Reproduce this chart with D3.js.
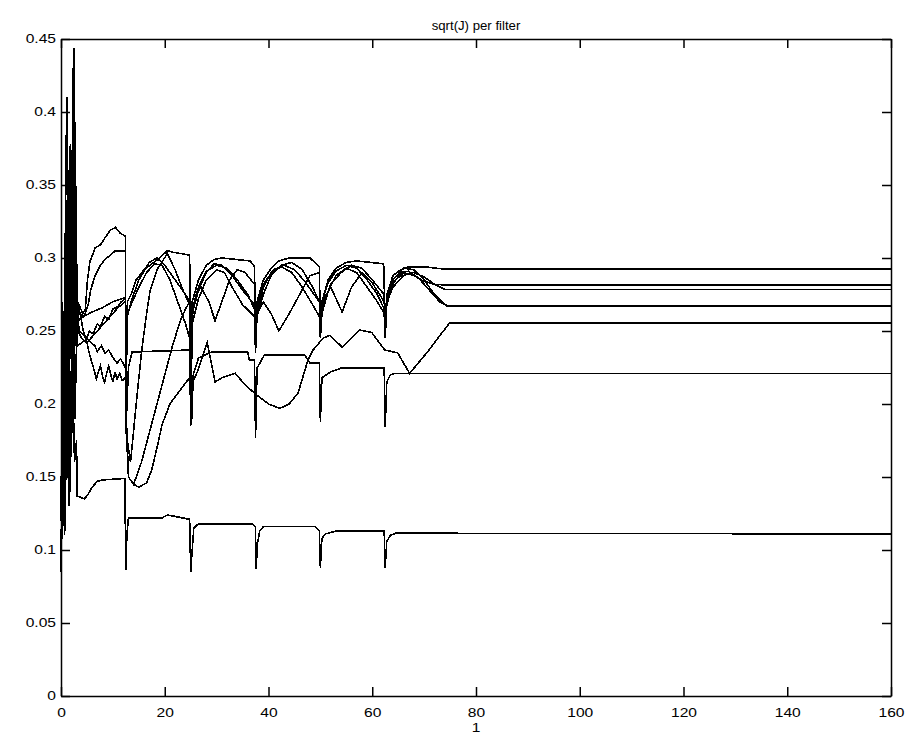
<!DOCTYPE html>
<html>
<head>
<meta charset="utf-8">
<script src="https://cdn.jsdelivr.net/npm/d3@7"></script>
<style>
  body { margin: 0; background: #fff; }
  text { font-family: "Liberation Sans", Arial, sans-serif; fill: #000; }
</style>
</head>
<body>
<script>
// sqrt(J) per filter - one line per filter

let titleText = "sqrt(J) per filter";
let xLabelText = "1";
let xTicks = [0, 20, 40, 60, 80, 100, 120, 140, 160];
let yTicks = [0, 0.05, 0.1, 0.15, 0.2, 0.25, 0.3, 0.35, 0.4, 0.45];
let yTickLabels = ["0", "0.05", "0.1", "0.15", "0.2", "0.25", "0.3", "0.35", "0.4", "0.45"];

// filter A (ends at 0.2925)
let filterA = [[0,0.12],[0.3,0.27],[0.8,0.17],[1.4,0.36],[1.9,0.24],[2.3,0.43],[2.7,0.29],[3.2,0.27],[4.2,0.262],[4.7,0.265],[5.1,0.285],[5.6,0.298],[6.2,0.303],[6.6,0.307],[7.6,0.309],[8.5,0.314],[9.5,0.319],[10.5,0.321],[11.4,0.317],[12.4,0.315],[12.5,0.22],[12.8,0.27],[13.5,0.275],[14.5,0.285],[16,0.292],[17.5,0.296],[19,0.3],[20.5,0.305],[21.5,0.304],[24.8,0.302],[25,0.19],[25.3,0.27],[26.5,0.285],[28,0.295],[29.5,0.299],[31,0.3],[36.5,0.298],[37.3,0.294],[37.5,0.245],[37.8,0.27],[39,0.285],[40.5,0.293],[42,0.298],[44,0.3],[48,0.3],[49.8,0.294],[50,0.25],[50.3,0.27],[51.5,0.285],[53,0.293],[55,0.297],[57,0.298],[62.2,0.296],[62.5,0.255],[62.8,0.275],[64,0.288],[65.5,0.292],[67,0.294],[70,0.294],[73.6,0.2925],[160,0.2925]];
// filter B (ends at 0.2815)
let filterB = [[0,0.1],[0.5,0.2],[1.1,0.41],[1.6,0.22],[2.1,0.33],[2.5,0.444],[2.9,0.27],[3.5,0.262],[4.5,0.26],[5.3,0.269],[5.7,0.278],[6.6,0.288],[7.6,0.295],[8.5,0.299],[10.5,0.305],[12.4,0.305],[12.5,0.2],[12.8,0.26],[13.5,0.27],[15,0.285],[17,0.297],[18.5,0.3],[20,0.295],[22,0.285],[24,0.275],[24.8,0.27],[25,0.2],[25.3,0.265],[26.5,0.28],[28,0.291],[30,0.295],[32,0.293],[34,0.285],[36,0.275],[37.3,0.265],[37.5,0.24],[37.8,0.26],[39,0.275],[40.5,0.288],[42.5,0.295],[44.5,0.297],[46.5,0.292],[48.5,0.28],[49.8,0.27],[50,0.255],[50.3,0.27],[51.5,0.283],[53,0.291],[55,0.295],[57,0.293],[59,0.285],[61,0.275],[62.3,0.265],[62.5,0.25],[62.8,0.27],[64,0.283],[66,0.29],[68,0.288],[70,0.284],[72,0.282],[74,0.2815],[160,0.2815]];
// filter C (ends at 0.2785)
let filterC = [[0,0.09],[0.4,0.16],[0.9,0.3],[1.3,0.2],[1.8,0.378],[2.2,0.26],[2.6,0.41],[3.0,0.25],[3.5,0.258],[4.4,0.26],[6,0.263],[8,0.266],[10,0.27],[12.4,0.273],[12.5,0.2],[13,0.15],[14,0.145],[15.5,0.16],[17,0.18],[18.5,0.2],[20,0.22],[21.5,0.24],[23,0.257],[24,0.265],[24.8,0.27],[25,0.19],[25.3,0.26],[26,0.275],[27,0.28],[28.5,0.27],[29.7,0.257],[31,0.27],[32.5,0.285],[34,0.292],[35.5,0.29],[37.3,0.282],[37.5,0.24],[37.8,0.262],[39,0.27],[40.5,0.262],[42,0.25],[44,0.262],[46,0.275],[48,0.288],[49.8,0.29],[50,0.255],[50.3,0.27],[52,0.28],[54.2,0.263],[56,0.28],[58,0.29],[60,0.283],[62.3,0.27],[62.5,0.255],[62.8,0.27],[64,0.28],[66,0.288],[68,0.29],[70,0.287],[72,0.282],[74,0.2785],[160,0.2785]];
// filter D (ends at 0.267)
let filterD = [[0,0.1],[0.6,0.24],[1.2,0.15],[1.7,0.3],[2.2,0.18],[2.8,0.36],[3.2,0.24],[4,0.242],[4.8,0.244],[5.5,0.25],[6.2,0.248],[7,0.255],[7.6,0.253],[8.4,0.26],[9.2,0.258],[10,0.265],[11,0.267],[11.6,0.27],[12.4,0.272],[12.5,0.2],[12.8,0.262],[13.5,0.268],[15,0.28],[16.5,0.29],[18,0.296],[19.5,0.295],[21,0.285],[22.5,0.27],[24,0.255],[24.8,0.245],[25,0.185],[25.3,0.255],[26.5,0.272],[28,0.285],[30,0.292],[31.5,0.29],[33,0.28],[35,0.268],[37.3,0.26],[37.5,0.235],[37.8,0.262],[39,0.28],[40.5,0.29],[42.5,0.294],[44.5,0.29],[46.5,0.28],[48.5,0.268],[49.8,0.26],[50,0.245],[50.3,0.262],[51.5,0.277],[53,0.288],[55,0.293],[57,0.29],[59,0.28],[61,0.27],[62.3,0.262],[62.5,0.245],[62.8,0.268],[64,0.282],[65.5,0.29],[67,0.291],[69,0.286],[71,0.278],[73,0.27],[74.5,0.267],[160,0.267]];
// filter E (ends at 0.267)
let filterE = [[0,0.13],[0.4,0.2],[1,0.34],[1.5,0.17],[2,0.37],[2.4,0.21],[2.8,0.33],[3.2,0.27],[3.8,0.26],[4.3,0.25],[5,0.242],[5.5,0.234],[6,0.228],[6.4,0.223],[6.8,0.217],[7.2,0.222],[7.6,0.226],[8,0.219],[8.4,0.215],[8.8,0.221],[9.2,0.226],[9.6,0.22],[10,0.215],[10.4,0.222],[10.8,0.217],[11.3,0.221],[11.8,0.216],[12.4,0.218],[12.5,0.182],[13,0.17],[13.4,0.16],[14.5,0.2],[15.5,0.235],[16.5,0.262],[17.2,0.278],[18.5,0.292],[20.5,0.303],[22,0.292],[23.5,0.278],[24.8,0.268],[25,0.2],[25.3,0.262],[26.5,0.278],[28,0.29],[29.5,0.296],[31,0.295],[33,0.288],[35,0.278],[37.3,0.268],[37.5,0.24],[37.8,0.265],[39,0.282],[41,0.292],[43,0.295],[45,0.292],[47,0.284],[49.8,0.27],[50,0.25],[50.3,0.266],[52,0.282],[54,0.29],[56,0.295],[58,0.293],[60,0.285],[62.3,0.275],[62.5,0.25],[62.8,0.272],[64,0.285],[66,0.293],[68,0.292],[70,0.285],[72,0.275],[74,0.268],[75,0.267],[160,0.267]];
// filter F (ends at 0.2555)
let filterF = [[0,0.095],[0.5,0.14],[1,0.28],[1.5,0.19],[2,0.33],[2.5,0.2],[2.9,0.31],[3.3,0.25],[4,0.245],[5,0.242],[6,0.246],[7,0.25],[8,0.254],[9,0.258],[10,0.262],[11,0.266],[12.4,0.27],[12.5,0.19],[13,0.15],[14,0.145],[15,0.143],[16.5,0.146],[17.5,0.155],[18.5,0.17],[19.5,0.186],[21,0.2],[22,0.205],[23.5,0.212],[24.8,0.218],[25,0.2],[25.4,0.215],[26.4,0.223],[28.2,0.242],[29.7,0.215],[31,0.218],[33.6,0.221],[35.5,0.213],[37.8,0.206],[40,0.2],[42.2,0.197],[44,0.2],[45.7,0.2075],[47.6,0.23],[48.6,0.237],[50.5,0.245],[51.8,0.247],[54.2,0.239],[57.6,0.2507],[59.9,0.249],[62.4,0.237],[64.9,0.235],[67.2,0.221],[70.5,0.235],[74.9,0.2555],[160,0.2555]];
// filter G (ends at 0.221)
let filterG = [[0,0.085],[0.3,0.17],[0.8,0.12],[1.3,0.26],[1.8,0.14],[2.3,0.3],[2.7,0.19],[3.1,0.26],[3.6,0.25],[4.5,0.247],[5.5,0.243],[6.5,0.24],[7,0.236],[7.8,0.24],[8.5,0.235],[9.2,0.237],[10,0.232],[10.8,0.228],[11.5,0.231],[12.4,0.225],[12.5,0.18],[13,0.225],[13.7,0.2356],[25,0.237],[25.2,0.19],[25.5,0.22],[26.5,0.2315],[29,0.2356],[36,0.2356],[36.3,0.23],[37.3,0.23],[37.5,0.177],[37.8,0.2246],[39.2,0.2336],[47,0.2336],[48,0.228],[49.8,0.228],[50,0.188],[50.3,0.218],[52,0.222],[54,0.2246],[62.3,0.2246],[62.5,0.184],[62.8,0.215],[63.5,0.22],[64.5,0.221],[160,0.221]];
// filter H (ends at 0.111)
let filterH = [[0,0.085],[0.3,0.15],[0.7,0.11],[1.2,0.2],[1.6,0.13],[2.1,0.25],[2.6,0.16],[3,0.175],[3.1,0.137],[3.8,0.136],[4.5,0.135],[5.2,0.138],[6,0.143],[7,0.147],[8,0.148],[12.3,0.149],[12.5,0.086],[12.7,0.11],[13,0.122],[19.5,0.122],[20.5,0.124],[22,0.123],[24.8,0.121],[25,0.085],[25.3,0.1],[25.6,0.115],[26.5,0.118],[36.8,0.118],[37.5,0.116],[37.6,0.087],[37.9,0.105],[38.3,0.113],[39,0.116],[49,0.116],[49.8,0.113],[50,0.088],[50.3,0.108],[51,0.111],[53,0.113],[62.3,0.113],[62.5,0.088],[62.8,0.106],[63.5,0.11],[64.5,0.1115],[160,0.111]];

let filters = [filterA, filterB, filterC, filterD, filterE, filterF, filterG, filterH];

let margin = {top: 39, left: 61, bottom: 45, right: 25};
let width = 830, height = 657;
let textStretch = 1.3;

let svg = d3.select("body").append("svg")
    .attr("width", 916)
    .attr("height", 741)
  .append("g")
    .attr("transform", "translate(" + margin.left + "," + margin.top + ")");

let x = d3.scaleLinear().domain([0, 160]).range([0, width]);
let y = d3.scaleLinear().domain([0, 0.45]).range([height, 0]);

// lines - aliased like the old matlab screen dump
let line = d3.line()
    .x(function(d) { return x(d[0]); })
    .y(function(d) { return y(d[1]); });

svg.selectAll(".filter")
    .data(filters)
    .enter().append("path")
    .attr("class", "filter")
    .attr("d", line)
    .attr("fill", "none")
    .attr("stroke", "#000")
    .attr("stroke-width", 1.6)
    .attr("shape-rendering", "crispEdges");

// axes, ticks pointing inward like matlab
function styleAxis(g) {
  g.selectAll("path, line").attr("stroke", "#000").attr("stroke-width", 1.5);
  g.selectAll("text").style("font-size", "12px").attr("fill", "#000");
}

let axisB = svg.append("g")
    .attr("transform", "translate(0," + height + ")")
    .call(d3.axisBottom(x).tickValues(xTicks).tickSizeInner(-9).tickSizeOuter(0).tickPadding(0).tickFormat(d3.format("d")));
styleAxis(axisB);
axisB.selectAll("text")
    .attr("y", 21).attr("dy", null)
    .attr("x", 0)
    .attr("transform", "scale(" + textStretch + ",1)");

let axisL = svg.append("g")
    .call(d3.axisLeft(y).tickValues(yTicks).tickSizeInner(-9).tickSizeOuter(0)
      .tickFormat(function(d, i) { return yTickLabels[i]; }));
styleAxis(axisL);
axisL.selectAll("text")
    .attr("x", -5 / textStretch)
    .attr("transform", "scale(" + textStretch + ",1)");

let axisT = svg.append("g")
    .call(d3.axisTop(x).tickValues(xTicks).tickSizeInner(-9).tickSizeOuter(0).tickFormat(""));
styleAxis(axisT);

let axisR = svg.append("g")
    .attr("transform", "translate(" + width + ",0)")
    .call(d3.axisRight(y).tickValues(yTicks).tickSizeInner(-9).tickSizeOuter(0).tickFormat(""));
styleAxis(axisR);

// title and x label
svg.append("text")
    .attr("x", (width / 2) / 1.1)
    .attr("y", -9)
    .attr("text-anchor", "middle")
    .attr("transform", "scale(1.1,1)")
    .style("font-size", "12px")
    .text(titleText);

svg.append("text")
    .attr("x", (width / 2) / textStretch)
    .attr("y", height + 36)
    .attr("text-anchor", "middle")
    .attr("transform", "scale(" + textStretch + ",1)")
    .style("font-size", "12px")
    .text(xLabelText);
</script>
</body>
</html>
